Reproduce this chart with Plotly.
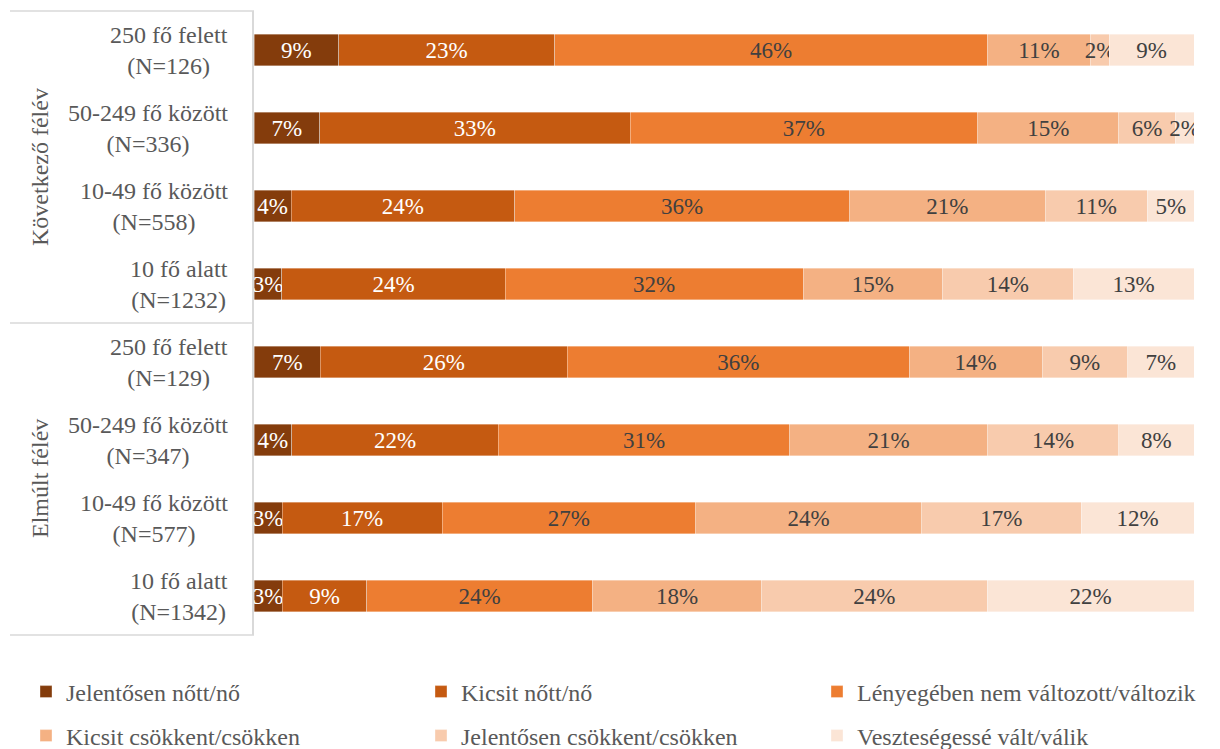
import plotly.graph_objects as go

categories = [
    "250 fő felett<br>(N=126)",
    "50-249 fő között<br>(N=336)",
    "10-49 fő között<br>(N=558)",
    "10 fő alatt<br>(N=1232)",
    "250 fő felett<br>(N=129)",
    "50-249 fő között<br>(N=347)",
    "10-49 fő között<br>(N=577)",
    "10 fő alatt<br>(N=1342)",
]
groups = ["Következő félév", "Elmúlt félév"]

series_names = [
    "Jelentősen nőtt/nő",
    "Kicsit nőtt/nő",
    "Lényegében nem változott/változik",
    "Kicsit csökkent/csökken",
    "Jelentősen csökkent/csökken",
    "Veszteségessé vált/válik",
]
jelentosen_nott = [9, 7, 4, 3, 7, 4, 3, 3]
kicsit_nott = [23, 33, 24, 24, 26, 22, 17, 9]
nem_valtozott = [46, 37, 36, 32, 36, 31, 27, 24]
kicsit_csokkent = [11, 15, 21, 15, 14, 21, 24, 18]
jelentosen_csokkent = [2, 6, 11, 14, 9, 14, 17, 24]
veszteseges = [9, 2, 5, 13, 7, 8, 12, 22]
series_values = [jelentosen_nott, kicsit_nott, nem_valtozott,
                 kicsit_csokkent, jelentosen_csokkent, veszteseges]

colors = ["#843C0C", "#C55A11", "#ED7D31", "#F4B183", "#F8CBAD", "#FBE5D6"]
text_colors = ["white", "white", "#404040", "#404040", "#404040", "#404040"]

FONT = "Palatino Linotype, Book Antiqua, Palatino, Liberation Serif, serif"

L, R, T, B = 254, 26, 11, 114
W, H = 1220, 749
pw = W - L - R
ph = H - T - B


def px_x(p):
    return (p - L) / pw


def px_y(p):
    return (H - B - p) / ph


legend_ids = ["legend", "legend2", "legend3", "legend4", "legend5", "legend6"]
legend_px = [(26, 692), (421, 692), (817, 692), (26, 736), (421, 736), (817, 736)]

fig = go.Figure()
for i, (name, vals) in enumerate(zip(series_names, series_values)):
    fig.add_trace(go.Bar(
        y=categories, x=vals, name=name, orientation="h",
        marker=dict(color=colors[i], line=dict(color="rgba(255,255,255,0.6)", width=0.6)),
        text=[f"{v}%" for v in vals], textposition="inside", textangle=0,
        insidetextanchor="middle", constraintext="none",
        textfont=dict(family=FONT, size=23, color=text_colors[i]),
        width=0.4,
        legend=legend_ids[i],
    ))

annotations = []
for c in categories:
    annotations.append(dict(
        x=px_x(230), y=c, xref="paper", yref="y", text=c, showarrow=False,
        xanchor="right", yanchor="middle", align="center",
        font=dict(family=FONT, size=24, color="#595959"),
    ))
for g, yy in zip(groups, [0.75, 0.25]):
    annotations.append(dict(
        x=px_x(40), y=yy, xref="paper", yref="paper", text=g, showarrow=False,
        textangle=-90, xanchor="center", yanchor="middle",
        font=dict(family=FONT, size=24, color="#595959"),
    ))

shapes = []
for yy in [1, 0.5, 0]:
    shapes.append(dict(type="line", xref="paper", yref="paper",
                       x0=px_x(10), x1=0, y0=yy, y1=yy,
                       line=dict(color="#d9d9d9", width=1.5)))

legends = {}
for lid, (lx, ly) in zip(legend_ids, legend_px):
    legends[lid] = dict(
        orientation="h", xanchor="left", yanchor="middle",
        x=px_x(lx), y=px_y(ly), traceorder="normal",
        font=dict(family=FONT, size=24, color="#595959"),
        bgcolor="rgba(0,0,0,0)", itemclick=False, itemdoubleclick=False,
    )

fig.update_layout(
    width=W, height=H,
    margin=dict(l=L, r=R, t=T, b=B, autoexpand=False),
    barmode="stack", barnorm="percent",
    plot_bgcolor="white", paper_bgcolor="white",
    font=dict(family=FONT, size=20, color="#595959"),
    xaxis=dict(range=[0, 100], visible=False, fixedrange=True),
    yaxis=dict(categoryorder="array", categoryarray=categories,
               autorange="reversed", showticklabels=False, ticks="",
               showline=True, linecolor="#d9d9d9", linewidth=1.5,
               showgrid=False, zeroline=False),
    annotations=annotations,
    shapes=shapes,
    showlegend=True,
    **legends,
)

fig.write_html("out.html", config={"displayModeBar": False},
               post_script="document.body.style.margin='0';document.body.style.overflow='hidden';")
